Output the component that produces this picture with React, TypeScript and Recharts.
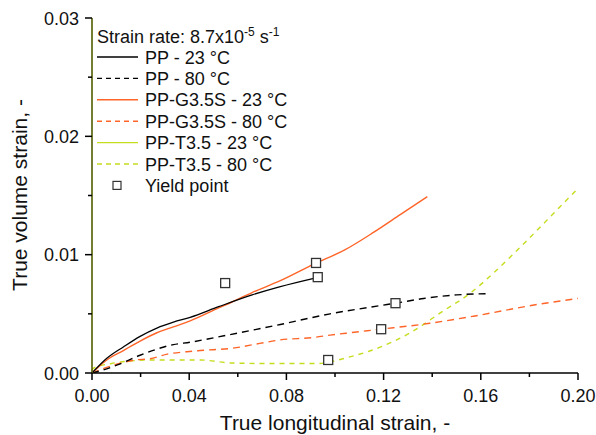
import React from 'react';
import { ComposedChart, Line, Scatter, XAxis, YAxis } from 'recharts';

// PP - 23 °C (solid black)
const ppRT_x = [0, 0.0061, 0.0129, 0.0198, 0.0267, 0.0335, 0.0404, 0.0521, 0.0659, 0.0775, 0.0913];
const ppRT_y = [0, 0.00124, 0.0022, 0.0031, 0.0038, 0.0043, 0.0047, 0.0056, 0.0066, 0.0073, 0.008];
// PP - 80 °C (dashed black)
const ppHT_x = [0, 0.0054, 0.0107, 0.0198, 0.0335, 0.0404, 0.0507, 0.0775, 0.098, 0.1188, 0.125, 0.1365, 0.15, 0.163];
const ppHT_y = [0, 0.0003, 0.0007, 0.0015, 0.0024, 0.0026, 0.003, 0.0041, 0.005, 0.0057, 0.0059, 0.0063, 0.0066, 0.0067];
// PP-G3.5S - 23 °C (solid orange)
const gRT_x = [0, 0.0061, 0.0129, 0.0198, 0.0267, 0.0335, 0.0404, 0.0521, 0.0576, 0.0659, 0.0775, 0.0913, 0.104, 0.116, 0.127, 0.138];
const gRT_y = [0, 0.0011, 0.0019, 0.0027, 0.0034, 0.0039, 0.0044, 0.0055, 0.006, 0.0068, 0.0078, 0.0092, 0.0104, 0.0119, 0.0134, 0.0149];
// PP-G3.5S - 80 °C (dashed orange)
const gHT_x = [0, 0.0095, 0.0177, 0.0239, 0.031, 0.039, 0.0445, 0.058, 0.069, 0.0775, 0.091, 0.098, 0.106, 0.1188, 0.139, 0.157, 0.1835, 0.2];
const gHT_y = [0, 0.0007, 0.0011, 0.0012, 0.0016, 0.0018, 0.0019, 0.0021, 0.0025, 0.0028, 0.003, 0.0032, 0.0034, 0.0037, 0.0042, 0.0048, 0.0058, 0.0063];
// PP-T3.5 - 80 °C (dashed yellow-green)
const tHT_x = [0, 0.0005, 0.008, 0.015, 0.025, 0.038, 0.0445, 0.057, 0.072, 0.0775, 0.093, 0.0968, 0.105, 0.1188, 0.131, 0.1435, 0.156, 0.1655, 0.179, 0.19, 0.2];
const tHT_y = [0.0002, 0.0004, 0.0008, 0.001, 0.0011, 0.0011, 0.0011, 0.00085, 0.0008, 0.0008, 0.0008, 0.0009, 0.0013, 0.0022, 0.0034, 0.0051, 0.0068, 0.0085, 0.0112, 0.0135, 0.0156];
// Yield points
const yield_x = [0.0548, 0.0922, 0.0929, 0.1249, 0.119, 0.0972];
const yield_y = [0.0076, 0.0093, 0.0081, 0.0059, 0.0037, 0.0011];

const xTicks = [0, 0.02, 0.04, 0.06, 0.08, 0.1, 0.12, 0.14, 0.16, 0.18, 0.2];
const xTickLabels = ['0.00', '', '0.04', '', '0.08', '', '0.12', '', '0.16', '', '0.20'];
const yTicks = [0, 0.005, 0.01, 0.015, 0.02, 0.025, 0.03];
const yTickLabels = ['0.00', '', '0.01', '', '0.02', '', '0.03'];

const legendTitle = 'Strain rate: 8.7x10';
const legendItems = ['PP - 23 °C', 'PP - 80 °C', 'PP-G3.5S - 23 °C', 'PP-G3.5S - 80 °C', 'PP-T3.5 - 23 °C', 'PP-T3.5 - 80 °C', 'Yield point'];

const ORANGE = '#ff6428';
const YG = '#c6dc1e';
const FONT = '"Liberation Sans", Arial, sans-serif';

const legendStyles = [
  { color: '#000', dash: undefined },
  { color: '#000', dash: '5 4' },
  { color: ORANGE, dash: undefined },
  { color: ORANGE, dash: '5 4' },
  { color: YG, dash: undefined },
  { color: YG, dash: '5 4' },
];

const zip = (xs: number[], ys: number[]) => xs.map((x, i) => ({ x, y: ys[i] }));

const BottomTick = (props: any) => {
  const { x, y, index } = props;
  const label = xTickLabels[index];
  const len = label ? 7 : 4;
  return (
    <g>
      <line x1={x} x2={x} y1={y} y2={y + len} stroke="#000" strokeWidth={1.5} />
      {label ? (
        <text x={x} y={y + 29} textAnchor="middle" fontSize={18} fontFamily={FONT} fill="#111">
          {label}
        </text>
      ) : null}
    </g>
  );
};

const LeftTick = (props: any) => {
  const { x, y, index } = props;
  const label = yTickLabels[index];
  const len = label ? 7 : 4;
  return (
    <g>
      <line x1={x} x2={x - len} y1={y} y2={y} stroke="#000" strokeWidth={1.5} />
      {label ? (
        <text x={x - 13} y={y + 6.5} textAnchor="end" fontSize={18} fontFamily={FONT} fill="#111">
          {label}
        </text>
      ) : null}
    </g>
  );
};

const TopTick = (props: any) => {
  const { x, y, index } = props;
  const len = xTickLabels[index] ? 6 : 4;
  return <line x1={x} x2={x} y1={y} y2={y + len} stroke="#000" strokeWidth={1.5} />;
};

const RightTick = (props: any) => {
  const { x, y, index } = props;
  const len = yTickLabels[index] ? 6 : 4;
  return <line x1={x} x2={x - len} y1={y} y2={y} stroke="#000" strokeWidth={1.5} />;
};

const YieldShape = (p: any) => (
  <rect x={p.cx - 4.5} y={p.cy - 4.5} width={9} height={9} fill="#fff" stroke="#333" strokeWidth={1.3} />
);

export default function App() {
  return (
    <div style={{ position: 'absolute', left: 0, top: 0, width: 596, height: 435, background: '#fff' }}>
      <ComposedChart width={596} height={435} margin={{ top: 18, right: 18, left: 0, bottom: 0 }}>
        <XAxis
          dataKey="x"
          type="number"
          domain={[0, 0.2]}
          ticks={xTicks}
          interval={0}
          allowDataOverflow
          height={62}
          tickSize={0}
          tickMargin={0}
          tickLine={false}
          tick={<BottomTick />}
          axisLine={{ stroke: '#000', strokeWidth: 1.5 }}
        />
        <XAxis
          xAxisId="t"
          orientation="top"
          dataKey="x"
          type="number"
          domain={[0, 0.2]}
          ticks={xTicks}
          interval={0}
          height={0}
          tickSize={0}
          tickMargin={0}
          tickLine={false}
          tick={<TopTick />}
          axisLine={{ stroke: '#000', strokeWidth: 1.5 }}
        />
        <YAxis
          type="number"
          domain={[0, 0.03]}
          ticks={yTicks}
          interval={0}
          allowDataOverflow
          width={92}
          tickSize={0}
          tickMargin={0}
          tickLine={false}
          tick={<LeftTick />}
          axisLine={{ stroke: '#525c00', strokeWidth: 1.6 }}
        />
        <YAxis
          yAxisId="r"
          orientation="right"
          type="number"
          domain={[0, 0.03]}
          ticks={yTicks}
          interval={0}
          width={0}
          tickSize={0}
          tickMargin={0}
          tickLine={false}
          tick={<RightTick />}
          axisLine={{ stroke: '#000', strokeWidth: 1.5 }}
        />
        <Line data={zip(tHT_x, tHT_y)} dataKey="y" type="monotone" stroke={YG} strokeWidth={1.4} strokeDasharray="5 5" dot={false} isAnimationActive={false} />
        <Line data={zip(gHT_x, gHT_y)} dataKey="y" type="monotone" stroke={ORANGE} strokeWidth={1.4} strokeDasharray="7 5" dot={false} isAnimationActive={false} />
        <Line data={zip(ppHT_x, ppHT_y)} dataKey="y" type="monotone" stroke="#000" strokeWidth={1.4} strokeDasharray="7 5" dot={false} isAnimationActive={false} />
        <Line data={zip(gRT_x, gRT_y)} dataKey="y" type="monotone" stroke={ORANGE} strokeWidth={1.4} dot={false} isAnimationActive={false} />
        <Line data={zip(ppRT_x, ppRT_y)} dataKey="y" type="monotone" stroke="#000" strokeWidth={1.3} dot={false} isAnimationActive={false} />
        <Scatter data={zip(yield_x, yield_y)} dataKey="y" shape={YieldShape} isAnimationActive={false} />
      </ComposedChart>
      <svg width={596} height={435} style={{ position: 'absolute', left: 0, top: 0, pointerEvents: 'none' }}>
        <text x={97} y={43} fontSize={18} fontFamily={FONT} fill="#111">
          {legendTitle}
          <tspan dy={-7} fontSize={12}>-5</tspan>
          <tspan dy={7}> s</tspan>
          <tspan dy={-7} fontSize={12}>-1</tspan>
        </text>
        {legendItems.map((label, i) => {
          const cy = 57 + i * 21.4;
          const st = legendStyles[i];
          return (
            <g key={label}>
              {st ? (
                <line x1={97} x2={138} y1={cy} y2={cy} stroke={st.color} strokeWidth={1.4} strokeDasharray={st.dash} />
              ) : (
                <rect x={113} y={cy - 4} width={8} height={8} fill="#fff" stroke="#333" strokeWidth={1.2} />
              )}
              <text x={145} y={cy + 6.5} fontSize={18} fontFamily={FONT} fill="#111">
                {label}
              </text>
            </g>
          );
        })}
        <text x={335} y={430} textAnchor="middle" fontSize={21} fontFamily={FONT} fill="#111">
          True longitudinal strain, -
        </text>
        <text x={0} y={0} transform="translate(27,195) rotate(-90)" textAnchor="middle" fontSize={21} fontFamily={FONT} fill="#111">
          True volume strain, -
        </text>
      </svg>
    </div>
  );
}
